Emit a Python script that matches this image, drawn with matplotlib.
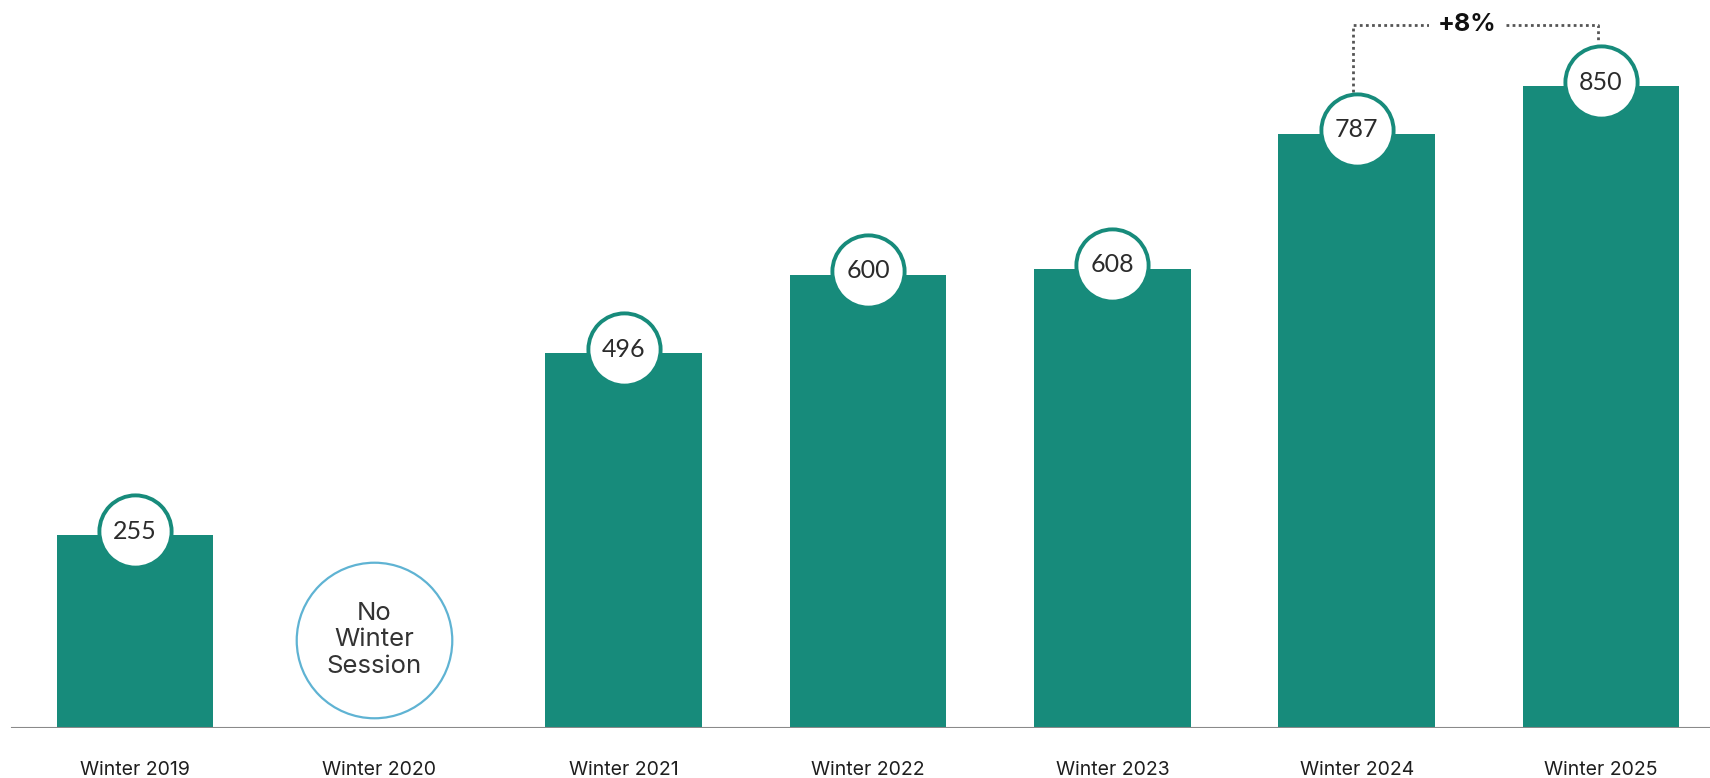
# winter session bar chart with value bubbles
import matplotlib.pyplot as plt
from matplotlib.transforms import offset_copy

sessions = ["Winter 2019", "Winter 2020", "Winter 2021", "Winter 2022",
            "Winter 2023", "Winter 2024", "Winter 2025"]
values = [255, None, 496, 600, 608, 787, 850]
missing_text = "No\nWinter\nSession"
growth_label = "+8%"

teal = "#178b7b"
dark = "#2b2b2b"

fig = plt.figure(figsize=(17.1, 7.78), dpi=100)
ax = fig.add_axes([0, 50 / 778, 1, 728 / 778])

xs = list(range(len(sessions)))
bar_x = [x for x, v in zip(xs, values) if v is not None]
bar_v = [v for v in values if v is not None]
ax.bar(bar_x, bar_v, width=0.64, color=teal, zorder=2)

# bubbles sitting on the bar tops
bubble_tr = offset_copy(ax.transData, fig=fig, y=4, units="dots")
for x, v in zip(bar_x, bar_v):
    ax.plot(x, v, marker="o", markersize=52, markerfacecolor="white",
            markeredgecolor=teal, markeredgewidth=2.8, transform=bubble_tr,
            zorder=3, clip_on=False)
    ax.text(x, v, str(v), transform=bubble_tr, ha="center", va="center",
            fontsize=18, color=dark, family="Lato", zorder=4)

# empty session marker
for x, v in zip(xs, values):
    if v is None:
        ax.plot(x - 0.02, 117, marker="o", markersize=112, markerfacecolor="white",
                markeredgecolor="#5fb3d3", markeredgewidth=1.6, zorder=3)
        ax.text(x - 0.02, 117, missing_text, ha="center", va="center",
                fontsize=18.5, color="#333333", family="Inter", linespacing=1.2,
                zorder=4)

# growth bracket between the last two sessions
a, b = 5, 6
y_br = 931
ax.plot([a - 0.016, a - 0.016, b - 0.012, b - 0.012],
        [842, y_br, y_br, 907], linestyle=(0, (1, 1.2)), color="#555555",
        lw=2, zorder=1, clip_on=False)
ax.text(5.45, y_br, growth_label, ha="center", va="center", fontsize=18,
        fontweight="bold", color="#111111", family="Inter",
        bbox=dict(facecolor="white", edgecolor="none", pad=6), zorder=2)

ax.axhline(0, xmin=12 / 1710, xmax=1, color="#8a8a8a", lw=1.5, zorder=5)

ax.set_xlim(-135 / 244.4, 6 + 109 / 244.4)
ax.set_ylim(0, 964)
ax.set_xticks(xs)
ax.set_xticklabels(sessions, fontsize=14, color="#1e1e1e", family="Inter")
ax.tick_params(axis="x", length=0, pad=24)
ax.set_yticks([])
for s in ax.spines.values():
    s.set_visible(False)

fig.savefig("out.png", dpi=100)
